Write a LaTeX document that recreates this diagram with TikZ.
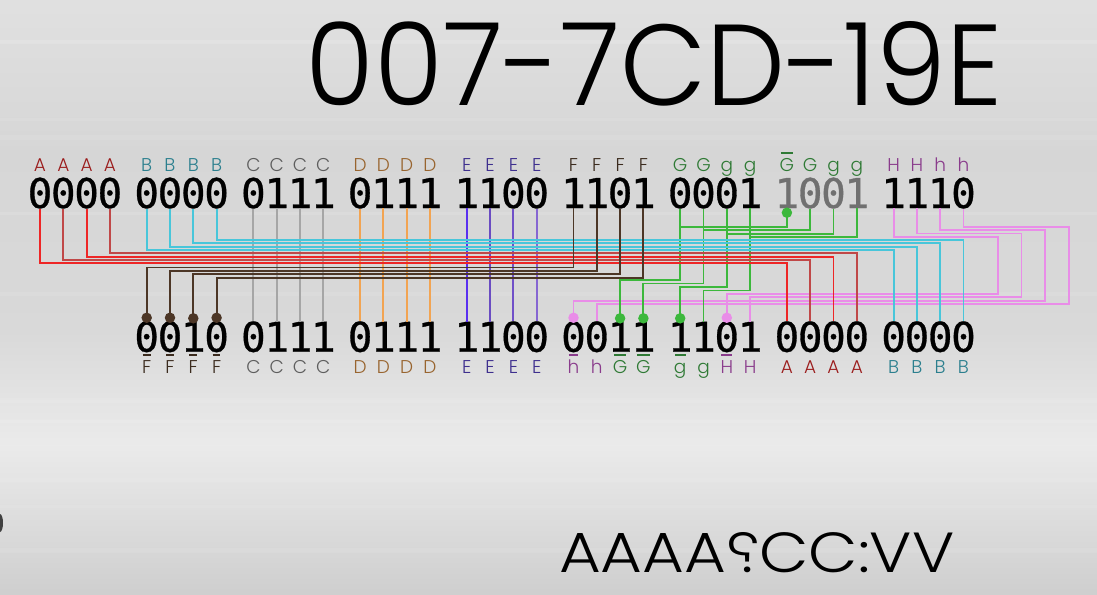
\documentclass[tikz,border=0pt]{standalone}
\usepackage{fontspec}
\usepackage{graphicx}
\setmainfont{Poppins}[UprightFont=* Light]
\newfontfamily\digitfont{DejaVu Sans Mono}[FakeBold=0.7]
\usetikzlibrary{calc}
\definecolor{cA}{HTML}{9B1C1C}
\definecolor{cB}{HTML}{2B7F8E}
\definecolor{cC}{HTML}{5E5E5E}
\definecolor{cD}{HTML}{98642E}
\definecolor{cE}{HTML}{3E2F8E}
\definecolor{cF}{HTML}{3B2B1E}
\definecolor{cG}{HTML}{2F7A35}
\definecolor{cH}{HTML}{8A3C8C}
\definecolor{lRa}{HTML}{EE2626}
\definecolor{lRb}{HTML}{C04848}
\definecolor{lB}{HTML}{48C6DA}
\definecolor{lC}{HTML}{A6A6A6}
\definecolor{lD}{HTML}{F2A452}
\definecolor{lEa}{HTML}{5A30F0}
\definecolor{lEb}{HTML}{6A4CC2}
\definecolor{lEc}{HTML}{7050C8}
\definecolor{lEd}{HTML}{8666D2}
\definecolor{lF}{HTML}{4C3626}
\definecolor{lG}{HTML}{3CB83C}
\definecolor{lH}{HTML}{E98DE8}
\definecolor{dgray}{HTML}{707070}
\newcommand\myovl[1]{\setbox0\hbox{#1}\hbox to\wd0{\hss\vrule height 18.6pt depth -16.9pt width 0.85\wd0\hss}\kern-\wd0\box0}
\tikzset{
  dig/.style={font=\digitfont\fontsize{41}{41}\selectfont, inner sep=0pt, anchor=base},
  lab/.style={font=\fontsize{18.5}{18.5}\selectfont, inner sep=0pt, anchor=base},
  wire/.style={line width=1.9pt},
  dotn/.style={circle, inner sep=0pt, minimum size=10.5pt}
}
\begin{document}
\begin{tikzpicture}[x=1pt,y=-1pt]
% background
\useasboundingbox (0,0) rectangle (1097,594);
\shade[top color=black!12, bottom color=black!16] (0,0) rectangle (1097,150);
\shade[top color=black!16, bottom color=black!15] (0,150) rectangle (1097,330);
\shade[top color=black!15, bottom color=black!8] (0,330) rectangle (1097,445);
\shade[top color=black!8, bottom color=black!19] (0,445) rectangle (1097,594);
\foreach \yy/\op/\h in {40/0.12/4,118/0.1/3,135/0.08/5,212/0.1/3,292/0.08/4,398/0.1/5,420/0.12/3,478/0.1/4,505/0.08/3,548/0.08/5}
  \fill[white,opacity=\op] (0,\yy) rectangle (1097,\yy+\h);
\fill[black!75] (0,523) ellipse [x radius=3, y radius=9];

% title texts
\node[anchor=base west, inner sep=0pt] (title) at (305,105) {\resizebox{697pt}{84pt}{007-7CD-19E}};
\node[anchor=base west, inner sep=0pt] (code) at (559,572) {\resizebox{395pt}{40pt}{AAAA\reflectbox{?}CC:VV}};

% top digits
\foreach \g/\col/\a/\b/\c/\d in {0/black/0/0/0/0,1/black/0/0/0/0,2/black/0/1/1/1,3/black/0/1/1/1,4/black/1/1/0/0,5/black/1/1/0/1,6/black/0/0/0/1,7/dgray/1/0/0/1,8/black/1/1/1/0}
  \foreach \j/\v in {0/\a,1/\b,2/\c,3/\d}
    \node[dig,text=\col] (t\g\j) at ({40+106.7*\g+23.3*\j},208) {\v};
% bottom digits
\foreach \g/\a/\b/\c/\d in {1/0/0/1/0,2/0/1/1/1,3/0/1/1/1,4/1/1/0/0,5/0/0/1/1,6/1/1/0/1,7/0/0/0/0,8/0/0/0/0}
  \foreach \j/\v in {0/\a,1/\b,2/\c,3/\d}
    \node[dig] (b\g\j) at ({40+106.7*\g+23.3*\j},351.7) {\v};

% top letters
\foreach \g/\col/\a/\b/\c/\d in {0/cA/A/A/A/A,1/cB/B/B/B/B,2/cC/C/C/C/C,3/cD/D/D/D/D,4/cE/E/E/E/E,5/cF/F/F/F/F,6/cG/G/G/g/g,7/cG/{\myovl{G}}/G/g/g,8/cH/H/H/h/h}
  \foreach \j/\v in {0/\a,1/\b,2/\c,3/\d}
    \node[lab,text=\col] (lt\g\j) at ({40+106.7*\g+23.3*\j},171) {\v};
% bottom letters
\foreach \g/\j/\col/\v in {1/0/cF/{\myovl{F}},1/1/cF/{\myovl{F}},1/2/cF/{\myovl{F}},1/3/cF/{\myovl{F}},
  2/0/cC/C,2/1/cC/C,2/2/cC/C,2/3/cC/C,
  3/0/cD/D,3/1/cD/D,3/2/cD/D,3/3/cD/D,
  4/0/cE/E,4/1/cE/E,4/2/cE/E,4/3/cE/E,
  5/0/cH/{\myovl{h}},5/1/cH/h,5/2/cG/{\myovl{G}},5/3/cG/{\myovl{G}},
  6/0/cG/{\myovl{g}},6/1/cG/g,6/2/cH/{\myovl{H}},6/3/cH/H,
  7/0/cA/A,7/1/cA/A,7/2/cA/A,7/3/cA/A,
  8/0/cB/B,8/1/cB/B,8/2/cB/B,8/3/cB/B}
  \node[lab,text=\col] (lb\g\j) at ({40+106.7*\g+23.3*\j},373) {\v};

% wires: C, D, E straight
\foreach \j in {0,1,2,3} {
  \draw[wire,lC] (t2\j.south) -- (b2\j.north);
  \draw[wire,lD] (t3\j.south) -- (b3\j.north);
}
\foreach \j/\c in {0/lEa,1/lEb,2/lEc,3/lEd}
  \draw[wire,\c] (t4\j.south) -- (b4\j.north);
% G junctions between group 7 and group 6
\foreach \j/\y in {0/227,1/230.3,2/233.7,3/237}
  \draw[wire,lG] (t7\j.south) |- (t6\j.south |- 0,\y);
% H wires (pink)
\foreach \j/\ya/\xr/\yb/\tg in {0/237/998/294/b62,1/233.5/1021.5/297.3/b63,2/230.2/1045/300.7/b50,3/227/1069/304/b51}
  \draw[wire,lH] (t8\j.south) |- (\xr,\ya) -- (\xr,\yb) -| (\tg.north);
% G wires down
\foreach \j/\y/\tg in {0/280/b52,1/283.5/b53,2/287/b60,3/290.5/b61}
  \draw[wire,lG] (t6\j.south) -- (t6\j.south |- 0,\y) -| (\tg.north);
% B wires
\foreach \j/\y in {0/250,1/246.7,2/243.3,3/240}
  \draw[wire,lB] (t1\j.south) -- (t1\j.south |- 0,\y) -| (b8\j.north);
% A wires
\foreach \j/\y/\c in {0/263.3/lRa,1/260/lRb,2/256.7/lRa,3/253.3/lRb}
  \draw[wire,\c] (t0\j.south) -- (t0\j.south |- 0,\y) -| (b7\j.north);
% F wires
\foreach \j/\y in {0/267.5,1/271,2/274.3,3/277.7}
  \draw[wire,lF] (t5\j.south) -- (t5\j.south |- 0,\y) -| (b1\j.north);

% dots
\node[dotn,fill=lG] (dtop) at ([yshift=-4.5pt]t70.south) {};
\foreach \n/\c in {b10/lF,b11/lF,b12/lF,b13/lF,b50/lH,b52/lG,b53/lG,b60/lG,b62/lH}
  \node[dotn,fill=\c] (d\n) at ([yshift=3.3pt]\n.north) {};
\end{tikzpicture}
\end{document}
